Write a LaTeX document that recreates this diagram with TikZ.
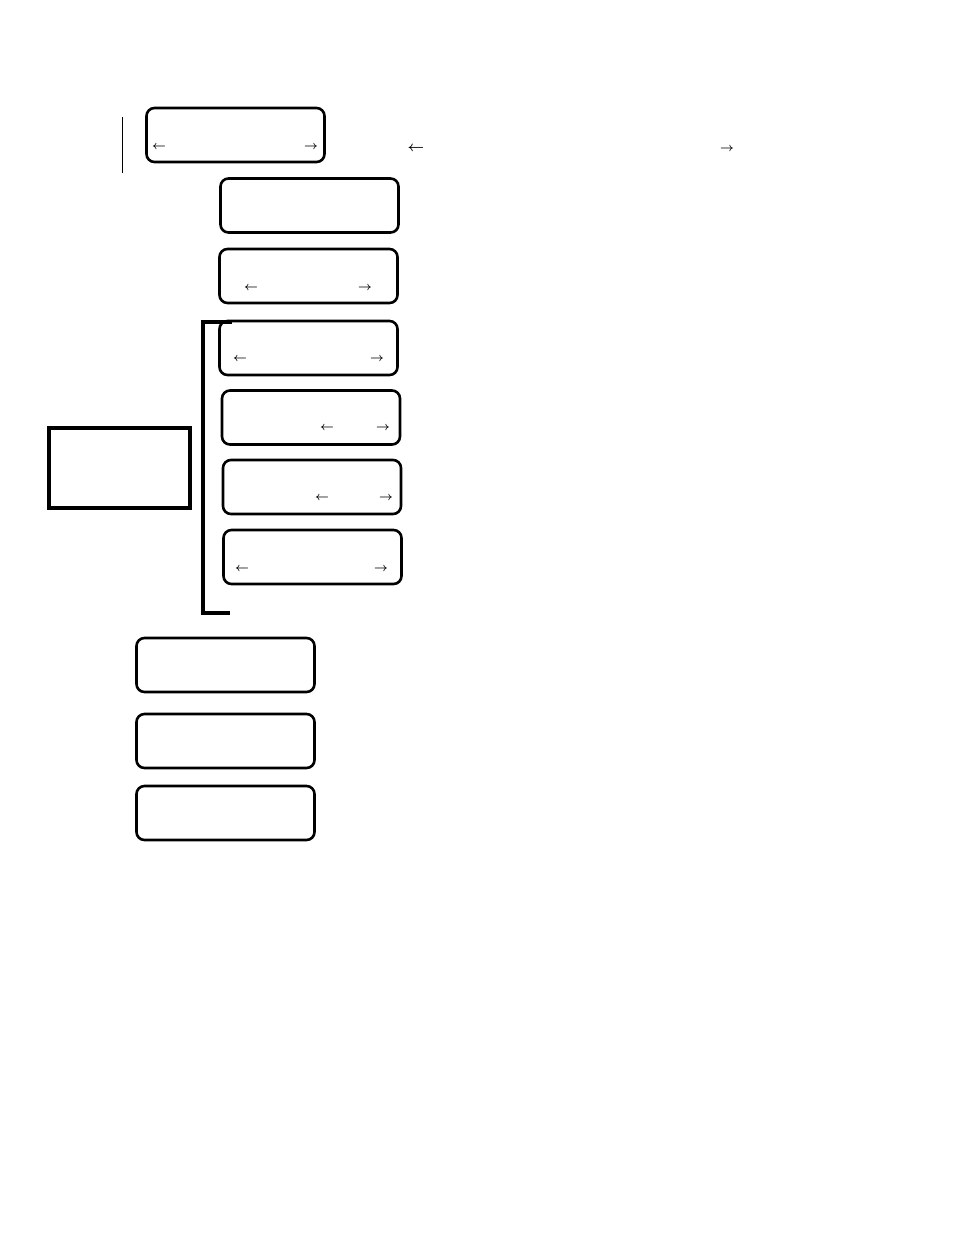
\documentclass[tikz,border=0pt]{standalone}
\usepackage{amsmath}
\usepackage{amssymb}
\usepackage{tikz}
\usetikzlibrary{positioning}
\tikzset{%
	panel/.style = {draw, rectangle, rounded corners=8pt, line width=2.6pt, minimum width=178pt, minimum height=54pt, inner sep=0pt},
	plainbox/.style = {draw, rectangle, line width=3.2pt, minimum width=141pt, minimum height=80pt, inner sep=0pt},
	glyph/.style = {inner sep=0pt, font=\fontsize{12}{14}\selectfont},
}

\begin{document}
\begin{tikzpicture}[x=1pt,y=-1pt]
		\useasboundingbox (0,0) rectangle (954,1235);
		% panels
		\foreach \n/\x/\y in {1/235.5/135,2/309.5/205.5,3/308.5/276,4/308.5/348,5/311/417.5,6/312/487,7/312.5/557,8/225.5/665,9/225.5/741,10/225.5/813}
			\node[panel] (p\n) at (\x,\y) {};
		
		\node[plainbox] (side) at (119.5,468) {};
		
		% arrows inside the panels
		\foreach \n/\xl/\xr/\y in {1/159/311/147,3/251/365/288,4/240/377/359,5/327/383/428,6/322/386/498,7/242/381/569}
		{
			\node[glyph] (l\n) at (\xl,\y) {$\boldsymbol{\leftarrow}$};
			\node[glyph] (r\n) at (\xr,\y) {$\boldsymbol{\rightarrow}$};
		}
		
		% free arrows
		\node[glyph,font=\fontsize{13.5}{16}\selectfont] (fl) at (416,149) {$\boldsymbol{\leftarrow}$};
		\node[glyph] (fr) at (727,149) {$\boldsymbol{\rightarrow}$};
		
		% bracket and mark
		\coordinate (bt) at (232,322);
		\coordinate (bb) at (230,613);
		\draw[line width=3.2pt] (bt) -- (203,322) -- (203,613) -- (bb);
		\coordinate (mt) at (122,117);
		\coordinate (mb) at (122,173);
		\draw[line width=0.9pt] (mt) -- (mb);
		
		\end{tikzpicture}
\end{document}
